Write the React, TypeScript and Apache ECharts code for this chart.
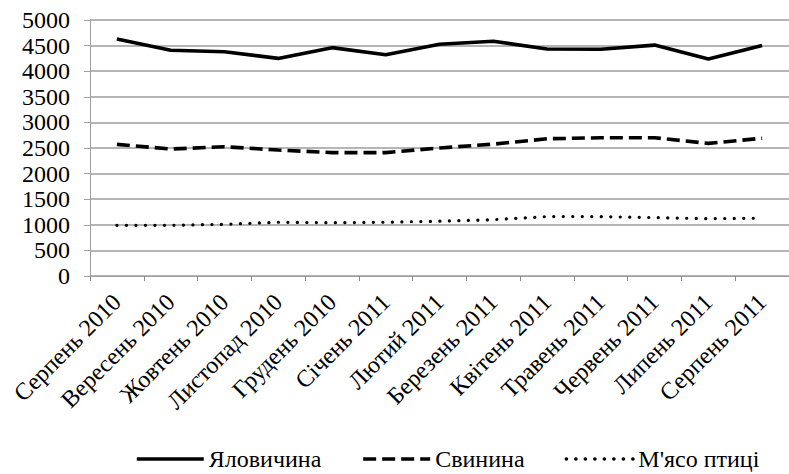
import React, { useEffect, useRef } from "react";
import * as echarts from "echarts";

const categories = [
  "Серпень 2010",
  "Вересень 2010",
  "Жовтень 2010",
  "Листопад 2010",
  "Грудень 2010",
  "Січень 2011",
  "Лютий 2011",
  "Березень 2011",
  "Квітень 2011",
  "Травень 2011",
  "Червень 2011",
  "Липень 2011",
  "Серпень 2011",
];

const beef = [4630, 4410, 4380, 4250, 4460, 4320, 4525, 4585, 4435, 4430, 4510, 4240, 4500];
const pork = [2570, 2480, 2525, 2460, 2410, 2410, 2500, 2575, 2680, 2700, 2700, 2590, 2690];
const poultry = [990, 990, 1010, 1050, 1040, 1050, 1070, 1100, 1160, 1160, 1140, 1120, 1130];

const seriesNames = ["Яловичина", "Свинина", "М'ясо птиці"];
const yTicks = { min: 0, max: 5000, interval: 500 };

const FONT = "Times New Roman, Liberation Serif, serif";

export default function App() {
  const ref = useRef<HTMLDivElement>(null);

  useEffect(() => {
    if (!ref.current) return;
    const chart = echarts.init(ref.current, null, { renderer: "svg" });
    chart.setOption({
      animation: false,
      backgroundColor: "#ffffff",
      textStyle: { fontFamily: FONT },
      grid: { left: 90, top: 20, width: 718, height: 256 },
      legend: {
        left: 130,
        top: 442,
        itemWidth: 67,
        itemHeight: 14,
        itemGap: 40,
        itemStyle: { opacity: 0, borderWidth: 0 },
        lineStyle: { width: 3.6 },
        textStyle: { fontFamily: FONT, fontSize: 24, color: "#000" },
        data: seriesNames,
      },
      xAxis: {
        type: "category",
        data: categories,
        boundaryGap: true,
        axisLine: { show: true, lineStyle: { color: "#9a9a9a", width: 1, type: "dotted" } },
        axisTick: { show: true, length: 5, lineStyle: { color: "#8a8a8a" } },
        axisLabel: {
          interval: 0,
          rotate: 45,
          margin: 22,
          fontFamily: FONT,
          fontSize: 24,
          color: "#000",
        },
      },
      yAxis: {
        type: "value",
        min: yTicks.min,
        max: yTicks.max,
        interval: yTicks.interval,
        axisLine: { show: true, lineStyle: { color: "#a0a0a0", width: 1 } },
        axisTick: { show: true, length: 6, lineStyle: { color: "#a0a0a0" } },
        axisLabel: {
          margin: 20,
          fontFamily: FONT,
          fontSize: 24,
          color: "#000",
          formatter: (v: number) => String(v),
        },
        splitLine: { show: true, lineStyle: { color: "#b5b5b5", width: 1.8 } },
      },
      series: [
        {
          name: seriesNames[0],
          type: "line",
          data: beef,
          symbol: "none",
          lineStyle: { color: "#000", width: 3.6, type: "solid" },
          itemStyle: { color: "#000" },
        },
        {
          name: seriesNames[1],
          type: "line",
          data: pork,
          symbol: "none",
          lineStyle: { color: "#000", width: 3.6, type: [13, 6] },
          itemStyle: { color: "#000" },
        },
        {
          name: seriesNames[2],
          type: "line",
          data: poultry,
          symbol: "none",
          lineStyle: { color: "#000", width: 3.2, type: [0.1, 9.4], cap: "round" },
          itemStyle: { color: "#000" },
        },
      ],
    });
    return () => chart.dispose();
  }, []);

  return (
    <div
      ref={ref}
      style={{ position: "fixed", left: 0, top: 0, width: 789, height: 474, background: "#fff" }}
    />
  );
}
